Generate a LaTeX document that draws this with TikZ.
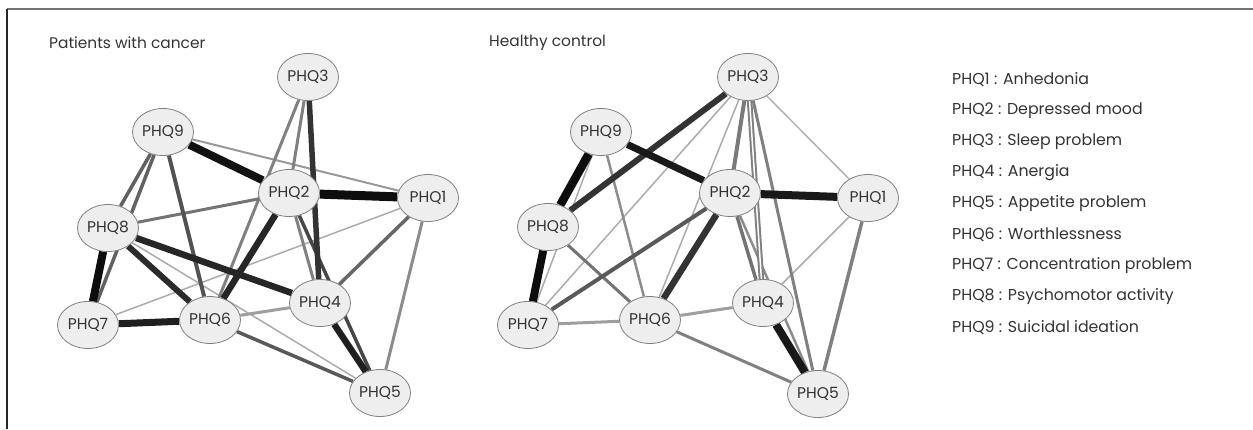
\documentclass[tikz,border=0pt]{standalone}
\usepackage{fontspec}
\setsansfont{Poppins}
\RequirePackage{xcolor}
\definecolor{nodegrey}{RGB}{238,238,238}
\definecolor{rimgrey}{RGB}{128,128,128}
\definecolor{textgrey}{RGB}{51,51,51}
\tikzset{every picture/.style={/utils/exec={\sffamily}}}
\usetikzlibrary{shapes.geometric}
\usetikzlibrary{backgrounds}
\tikzset{
  phq/.style={ellipse, draw=rimgrey, fill=nodegrey, line width=0.8pt,
    minimum width=61pt, minimum height=47pt, inner sep=0pt,
    font=\fontsize{15.5}{18}\selectfont, text=textgrey},
  paneltitle/.style={anchor=west, inner sep=0pt, font=\fontsize{15.4}{18}\selectfont, text=textgrey},
  keyline/.style={anchor=west, inner sep=0pt, font=\fontsize{15.8}{19}\selectfont, text=textgrey}
}

\begin{document}
\begin{tikzpicture}[x=1pt,y=-1pt]
  \useasboundingbox (0,0) rectangle (1253,429);

  % frame (only top and left edges show)
  \draw [black!55, line width=1.3pt] (7,9) -- (1253,9);
  \draw [black!85, line width=1.3pt] (7,9) -- (7,429);

  \node [paneltitle] (ctitle) at (49,43) {Patients with cancer};
  \node [paneltitle] (htitle) at (489,43) {Healthy control};

  % patients with cancer
  \foreach \n/\x/\y in {1/428/198, 2/289/193, 3/308/77, 4/320/303, 5/380/393,
                        6/210/320, 7/88/325, 8/108/228, 9/163/132} {
    \node [phq] (c\n) at (\x,\y) {PHQ\n};
  }

  % healthy control
  \foreach \n/\x/\y in {1/868/198, 2/730/193, 3/748/77, 4/763/303, 5/818/394,
                        6/650/320, 7/528/325, 8/548/227, 9/601/132} {
    \node [phq] (h\n) at (\x,\y) {PHQ\n};
  }

  \begin{scope}[on background layer]
    \foreach \a/\b/\w/\k in {1/7/1.5/33, 8/5/1.5/33, 9/1/2/40, 6/4/3/38, 1/5/3/45,
                             3/2/3/50, 3/6/3/50, 2/4/3/50, 2/8/3/55, 1/4/3.5/60,
                             9/8/3.5/62, 9/7/3.5/62, 6/5/3.5/65, 9/6/4/68, 2/5/3.5/72,
                             3/4/5.5/80, 8/6/6/83, 2/6/6.5/85, 8/4/6.5/85, 4/5/6.5/88,
                             6/7/7/88, 9/2/8/93, 8/7/8/95, 2/1/9/95} {
      \draw [line width=\w pt, black!\k] (c\a) -- (c\b);
    }
    \foreach \a/\b/\w/\k in {3/1/1.5/30, 3/7/1.5/33, 3/6/1.5/33, 9/7/1.5/33, 1/4/1.5/33,
                             6/7/3/38, 6/4/3/38, 2/5/2.5/45, 9/6/2.5/45, 3/5/3/50,
                             1/5/3.5/50, 6/5/3/50, 3/2/4/52, 2/4/3.5/55, 8/6/3/55,
                             2/7/4/65, 2/6/6.5/80, 3/8/6/80, 2/1/8/90, 9/2/7/90,
                             4/5/8/90, 9/8/8.5/95, 8/7/8/95} {
      \draw [line width=\w pt, black!\k] (h\a) -- (h\b);
    }
    \draw [black!50, line width=2pt, double=white, double distance=1.5pt] (h3) -- (h4);
  \end{scope}

  % key
  \foreach \i/\t in {1/Anhedonia, 2/Depressed mood, 3/Sleep problem, 4/Anergia,
                     5/Appetite problem, 6/Worthlessness, 7/Concentration problem,
                     8/Psychomotor activity, 9/Suicidal ideation} {
    \node [keyline] (key\i) at (952,{80+30.9*(\i-1)}) {PHQ\i{} : \t};
  }
\end{tikzpicture}
\end{document}
